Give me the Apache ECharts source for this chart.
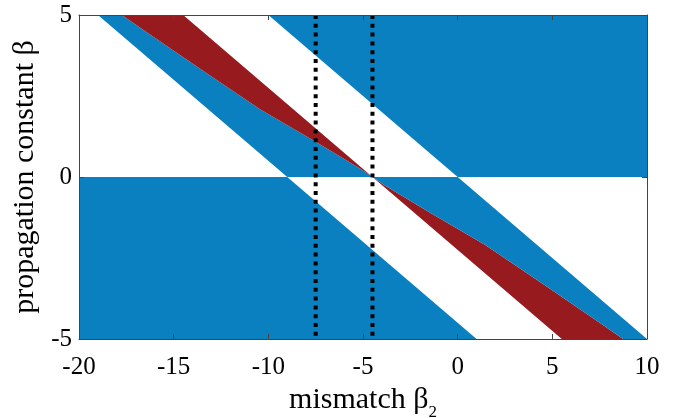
<!DOCTYPE html>
<html>
<head>
<meta charset="utf-8">
<script src="https://cdn.jsdelivr.net/npm/echarts@6/dist/echarts.min.js"></script>
<style>html,body{margin:0;padding:0;background:#fff}#c{width:678px;height:418px}</style>
</head>
<body>
<div id="c"></div>
<script>
// ---- data ----
const xTicks = [-20, -15, -10, -5, 0, 5, 10];
const yTicks = [-5, 0, 5];
const xRange = [-20, 10];
const yRange = [-5, 5];
// boundary lines of the blue bands  [beta2, beta]
const blueEdgeLeft  = [[-19, 5], [-9, 0], [1, -5]];
const blueEdgeRight = [[-10, 5], [0, 0], [10, -5]];
// straight edge of the red bands
const redStraight   = [[-14.5, 5], [-4.5, 0], [5.5, -5]];
// curved edge of the upper red band (top -> crossing point)
const redCurveUpper = [[-17.74, 5], [-16.25, 4.40], [-13.43, 3.27], [-10.44, 2.09], [-7.48, 1.08], [-5.16, 0.26], [-4.5, 0]];
// curved edge of the lower red band (crossing point -> bottom)
const redCurveLower = [[-4.5, 0], [-3.84, -0.26], [-1.52, -1.08], [1.44, -2.09], [4.43, -3.27], [7.25, -4.40], [8.74, -5]];
// dotted vertical markers
const dottedX = [-7.5, -4.5];

const BLUE = '#0a80c0';
const RED = '#961a1e';

// ---- polygons assembled from the arrays above ----
const rev = a => a.slice().reverse();
const polys = [
  { color: BLUE, pts: [blueEdgeRight[0], blueEdgeRight[1], [xRange[1], 0], [xRange[1], yRange[1]]] },
  { color: BLUE, pts: [[xRange[0], 0], blueEdgeLeft[1], blueEdgeLeft[2], [xRange[0], yRange[0]]] },
  { color: BLUE, pts: [blueEdgeLeft[0], blueEdgeLeft[1]].concat(rev(redCurveUpper)) },
  { color: RED,  pts: redCurveUpper.concat([redStraight[0]]) },
  { color: RED,  pts: [redStraight[1], redStraight[2]].concat(rev(redCurveLower)) },
  { color: BLUE, pts: redCurveLower.concat([blueEdgeRight[2], blueEdgeRight[1]]) }
];

const FONT = 'Liberation Serif';
const axisCommon = {
  type: 'value', z: 10,
  axisLine: { show: true, onZero: false, lineStyle: { color: '#444', width: 1 } },
  axisTick: { show: true, inside: true, length: 5, lineStyle: { color: '#444', width: 1 } },
  splitLine: { show: false }
};

const chart = echarts.init(document.getElementById('c'), null, { renderer: 'canvas' });
const series = [{
  type: 'custom',
  z: 2,
  clip: true,
  silent: true,
  data: polys.map((p, i) => [i]),
  encode: { x: -1, y: -1 },
  renderItem: function (params, api) {
    const poly = polys[params.dataIndex];
    return {
      type: 'polygon',
      shape: { points: poly.pts.map(p => api.coord(p)) },
      style: { fill: poly.color }
    };
  }
}];
dottedX.forEach(x => {
  series.push({
    type: 'line', z: 5, silent: true, symbol: 'none',
    data: [[x, yRange[1]], [x, yRange[0]]],
    lineStyle: { color: '#000', width: 4, type: [4, 4.8], cap: 'butt' }
  });
});

chart.setOption({
  animation: false,
  grid: { left: 79, right: 31, top: 15, bottom: 79, containLabel: false, outerBoundsMode: 'none' },
  xAxis: [
    Object.assign({}, axisCommon, {
      position: 'bottom', min: xRange[0], max: xRange[1], interval: 5,
      axisLabel: { show: true, margin: 16, fontFamily: FONT, fontSize: 25, color: '#000',
        formatter: v => xTicks.includes(v) ? String(v) : '' },
      name: '{a|mismatch β}{s|2}', nameLocation: 'middle', nameGap: 35,
      nameTextStyle: { rich: {
        a: { fontFamily: FONT, fontSize: 30, color: '#000', verticalAlign: 'top' },
        s: { fontFamily: FONT, fontSize: 17, color: '#000', lineHeight: 36, verticalAlign: 'bottom' }
      } }
    }),
    Object.assign({}, axisCommon, {
      position: 'top', min: xRange[0], max: xRange[1], interval: 5, axisLabel: { show: false }
    })
  ],
  yAxis: [
    Object.assign({}, axisCommon, {
      position: 'left', min: yRange[0], max: yRange[1], interval: 5,
      axisLabel: { show: true, margin: 7, fontFamily: FONT, fontSize: 25, color: '#000',
        formatter: v => yTicks.includes(v) ? String(v) : '' },
      name: 'propagation constant β', nameLocation: 'middle', nameGap: 27,
      nameTextStyle: { fontFamily: FONT, fontSize: 30, color: '#000' }
    }),
    Object.assign({}, axisCommon, {
      position: 'right', min: yRange[0], max: yRange[1], interval: 5, axisLabel: { show: false }
    })
  ],
  series: series
});
</script>
</body>
</html>
